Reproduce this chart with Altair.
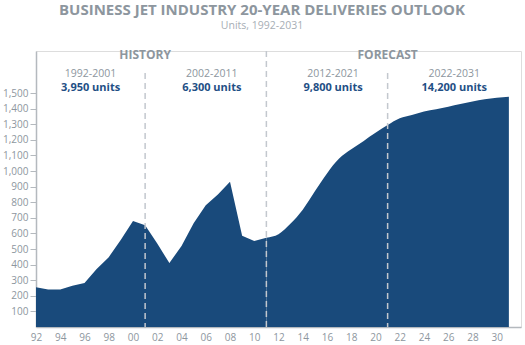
import altair as alt
import pandas as pd

years = list(range(1992, 2032))
deliveries = [255, 241, 240, 265, 282, 372, 448, 560, 680, 652,
              535, 410, 520, 665, 780, 850, 932, 585, 552, 573,
              595, 663, 752, 870, 985, 1080, 1140, 1192, 1245, 1295,
              1338, 1360, 1382, 1397, 1413, 1430, 1446, 1460, 1470, 1477]

period_labels = ["1992-2001", "2002-2011", "2012-2021", "2022-2031"]
period_units = ["3,950 units", "6,300 units", "9,800 units", "14,200 units"]
period_mid = [1996.5, 2006.5, 2016.5, 2026.5]

phase_labels = ["HISTORY", "FORECAST"]
phase_x = [2001, 2021]

decade_splits = [2001, 2021]
phase_split = [2011]

y_ticks = list(range(100, 1600, 100))
x_ticks = list(range(1992, 2032, 2))

df = pd.DataFrame({"year": years, "units": deliveries})
hist = df[df.year <= 2011]
fcst = df[df.year >= 2011]

FONT = "Open Sans"
GRAY = "#8d969e"
BLUE = "#194a7b"

xscale = alt.Scale(domain=[1992, 2032], nice=False, zero=False)
yscale = alt.Scale(domain=[0, 1770], nice=False)

xaxis = alt.Axis(values=x_ticks, ticks=False, grid=False, title=None,
                 labelExpr="(datum.value % 100) < 10 ? '0' + (datum.value % 100) : '' + (datum.value % 100)",
                 labelOverlap=False, labelFlush=False,
                 labelColor=GRAY, labelFont=FONT, labelFontSize=10, labelPadding=5,
                 domainColor="#b4b9be", domainWidth=1.5)
yaxis = alt.Axis(values=y_ticks, format=",d", grid=False, title=None,
                 labelOverlap=False, labelFlush=False,
                 labelColor=GRAY, labelFont=FONT, labelFontSize=10, labelPadding=2,
                 tickSize=6, tickColor="#b4b9be", tickWidth=1,
                 domainColor="#b4b9be", domainWidth=1.5)

def X():
    return alt.X("year:Q", scale=xscale, axis=xaxis)

def Y():
    return alt.Y("units:Q", scale=yscale, axis=yaxis)

area_h = alt.Chart(hist).mark_area(color=BLUE, interpolate="linear").encode(x=X(), y=Y())
area_f = alt.Chart(fcst).mark_area(color=BLUE, interpolate="monotone").encode(x=X(), y=Y())

rules_dec = alt.Chart(pd.DataFrame({"year": decade_splits})).mark_rule(
    color="#c3c8ce", strokeDash=[6, 4], strokeWidth=1.5).encode(
    x=X(), y=alt.value(22), y2=alt.value(276))
rules_ph = alt.Chart(pd.DataFrame({"year": phase_split})).mark_rule(
    color="#c3c8ce", strokeDash=[6, 4], strokeWidth=1.5).encode(
    x=X(), y=alt.value(0), y2=alt.value(276))

pdf = pd.DataFrame({"year": period_mid, "label": period_labels, "units": period_units})
t_range = alt.Chart(pdf).mark_text(font=FONT, fontSize=10.5, color=GRAY, baseline="middle").encode(
    x=X(), y=alt.value(23), text="label:N")
t_units = alt.Chart(pdf).mark_text(font=FONT, fontSize=11, fontWeight="bold", color="#1f4f85",
                                   baseline="middle").encode(
    x=X(), y=alt.value(37), text="units:N")

phdf = pd.DataFrame({"year": phase_x, "label": phase_labels})
t_phase = alt.Chart(phdf).mark_text(font=FONT, fontSize=12, fontWeight="bold", color=GRAY,
                                    baseline="middle").encode(
    x=X(), y=alt.value(4), text="label:N")

t_title = alt.Chart(pd.DataFrame({"t": ["BUSINESS JET INDUSTRY 20-YEAR DELIVERIES OUTLOOK"]})).mark_text(
    font=FONT, fontSize=15, fontWeight="bold", color=GRAY, baseline="middle").encode(
    x=alt.value(226), y=alt.value(-41), text="t:N")
t_sub = alt.Chart(pd.DataFrame({"t": ["Units, 1992-2031"]})).mark_text(
    font=FONT, fontSize=10.5, color="#a7aeb5", baseline="middle").encode(
    x=alt.value(226), y=alt.value(-25), text="t:N")

chart = alt.layer(area_h, area_f, rules_dec, rules_ph, t_range, t_units, t_phase, t_title, t_sub).properties(
    width=485, height=276,
    autosize=alt.AutoSizeParams(type="none"),
    padding={"left": 36, "top": 51, "right": 4, "bottom": 18},
).configure_view(stroke=None).configure_axis(labelOverlap=False, labelFlush=False).configure(background="white")

chart.save("out.html", embed_options={"renderer": "svg", "actions": False})
